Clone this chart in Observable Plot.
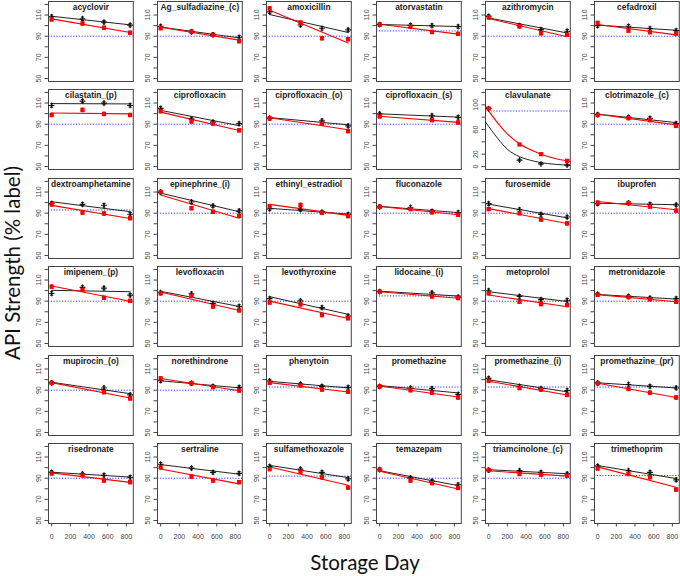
<!DOCTYPE html>
<html><head><meta charset="utf-8">
<script src="https://cdn.jsdelivr.net/npm/d3@7"></script>
<script src="https://cdn.jsdelivr.net/npm/@observablehq/plot@0.6"></script>
<style>
body{margin:0;background:#fff;}
#wrap{position:relative;width:680px;height:576px;overflow:hidden;background:#fff;}
.ylab{position:absolute;left:12px;top:263px;transform:translate(-50%,-50%) rotate(-90deg);font:20.5px Lato, sans-serif;white-space:nowrap;color:#111;}
.xlab{position:absolute;left:365px;top:562px;transform:translate(-50%,-50%);font:20.5px Lato, sans-serif;white-space:nowrap;color:#111;}
</style></head><body><div id="wrap"><div class="ylab">API Strength (% label)</div><div class="xlab">Storage Day</div></div>
<script>
const drugs = ["acyclovir","Ag_sulfadiazine_(c)","amoxicillin","atorvastatin","azithromycin","cefadroxil",
"cilastatin_(p)","ciprofloxacin","ciprofloxacin_(o)","ciprofloxacin_(s)","clavulanate","clotrimazole_(c)",
"dextroamphetamine","epinephrine_(i)","ethinyl_estradiol","fluconazole","furosemide","ibuprofen",
"imipenem_(p)","levofloxacin","levothyroxine","lidocaine_(i)","metoprolol","metronidazole",
"mupirocin_(o)","norethindrone","phenytoin","promethazine","promethazine_(i)","promethazine_(pr)",
"risedronate","sertraline","sulfamethoxazole","temazepam","triamcinolone_(c)","trimethoprim"];
const days = [0, 330, 560, 840];
// black series (per drug, at days)
const blackStrength = [
[108.4,106.5,103.3,100.5],[99.2,94,91.3,89],[113,100.6,97.5,95.9],[101,100.3,100,99],[108.8,100,96.3,94.7],[100,99.4,97.2,95.3],
[107.7,111.9,110,107.7],[105,95,92,90.5],[95.8,null,93.2,88.4],[99.7,null,98,96.5],[94,10.3,4.4,2.2],[99,96.5,95.5,90.6],
[99.1,98.4,97.5,89],[110,100.6,96.9,92.2],[94,93.5,91,88.8],[96,95.4,91.8,90.6],[99,93.3,88.8,86.4],[99,99.6,98.4,97.8],
[97.3,103,102.4,95.7],[98,97,87.9,85],[92.4,90.3,84,76],[99,null,97.8,93.9],[99.9,94.5,91.5,90.9],[96.6,94.5,93,92.4],
[96.9,null,92.1,85.5],[99,96.6,93.6,92.7],[98.7,95.7,93.6,92.7],[93.6,92,91.5,86.1],[101.1,93.6,91.5,89.7],[96.9,95.4,93.6,92.1],
[95.5,94,92.8,90.9],[103.2,99.5,95.5,94.6],[101.1,98.6,95.5,89.4],[98,90.3,87.2,83.8],[97.7,97.1,95.5,94],[101.4,97.1,95.5,88.5]];
// red series (per drug, at days)
const redStrength = [
[105.9,102,97.9,93.2],[97.6,94.4,91.3,85.3],[116.3,102.8,88.1,87.2],[101,98.8,94,92.2],[107.8,99.4,92.8,91.3],[102.5,95.3,93.8,92.5],
[98.7,103.5,99.7,98.7],[102.3,92.6,90.6,84.2],[95.5,null,90.6,83.5],[97.4,null,93.9,91.6],[94,35.7,20,9.2],[98.7,95.8,93.9,88.4],
[98.4,90.6,89.7,85.3],[110,94.7,91.3,87.5],[96.6,97.8,90.3,87.3],[96,93.9,90.9,88.5],[93.9,90,84,80.4],[99.9,99.6,96.3,92.4],
[103.7,100.8,93.2,90.3],[97.5,95,85,81.3],[88.8,87,76.9,73.9],[99,null,94.5,93],[97.5,89.4,87.3,86.4],[96,93.9,91.8,89.4],
[96.9,null,88.2,82.2],[101.1,96.6,93,89.7],[96.9,94.5,90.6,88.5],[93.6,90,87.6,83.1],[99,92.1,90.6,85.5],[96.6,91.2,87.6,83.1],
[94.6,92.8,87.8,86.3],[100.2,91.5,87.8,86.3],[98.6,96.2,90.9,81.1],[98,87.8,85.4,80.8],[97.7,94,93.4,92.5],[99.2,94,90.9,79.2]];
const refLevel = [90,90,90,95,90,90, 90,90,90,90,90,90, 93,90,90,90,90,90, 90,90,90,95,90,90, 90,90,93,93,93,93, 90,90,92,90,90,92.5];
// clavulanate exponential fit curves
const clavFitDays  = [-33, 100, 200, 330, 450, 560, 700, 873];
const clavFitBlack = [72, 45, 28, 16, 10, 6.3, 3.8, 2];
const clavFitRed   = [97, 70, 53, 37, 27, 20, 13.5, 8.5];
const yTicks = [50,60,70,80,90,100,110,120];
const yTickLabels = [50,70,90,110];
const clavTicks = [0,20,40,60,80,100,120];
const clavTickLabels = [0,20,60,100];
const xTicks = [0,200,400,600,800];
const errHalf = 1.6;

const capSymbol = {draw(ctx, size){ const w = Math.sqrt(size/Math.PI); ctx.moveTo(-w,0); ctx.lineTo(w,0); }};
const wrap = document.getElementById("wrap");
const W = 109.3, ML = 24;

drugs.forEach((name, i) => {
  const col = i % 6, row = Math.floor(i / 6);
  const bottom = row === 5;
  const clav = name === "clavulanate";
  const blk = days.map((d, k) => ({day: d, v: blackStrength[i][k]})).filter(d => d.v != null);
  const red = days.map((d, k) => ({day: d, v: redStrength[i][k]})).filter(d => d.v != null);
  const yt = clav ? clavTicks : yTicks, yl = clav ? clavTickLabels : yTickLabels;
  const marks = [
    Plot.frame({stroke: "#444", strokeWidth: 1}),
    Plot.axisY({ticks: yt, tickFormat: d => yl.includes(d) ? d : "", tickRotate: -90, tickSize: 3.5, tickPadding: 4.5, fontSize: 7, label: null, stroke: "#444", fill: "#444"}),
    Plot.ruleY([refLevel[i]], {stroke: "#3535ff", strokeDasharray: "1.2 1.6", strokeWidth: 1}),
  ];
  if (bottom) marks.push(Plot.axisX({ticks: xTicks, tickSize: 3.5, tickPadding: 7, fontSize: 7, label: null, stroke: "#444", fill: "#444"}));
  if (clav) {
    const fitB = clavFitDays.map((d, k) => ({day: d, v: clavFitBlack[k]}));
    const fitR = clavFitDays.map((d, k) => ({day: d, v: clavFitRed[k]}));
    marks.push(Plot.line(fitB, {x: "day", y: "v", stroke: "#222", strokeWidth: 1, curve: "monotone-x"}));
    marks.push(Plot.line(fitR, {x: "day", y: "v", stroke: "red", strokeWidth: 1.1, curve: "monotone-x"}));
  } else {
    marks.push(Plot.linearRegressionY(blk, {x: "day", y: "v", stroke: "#222", strokeWidth: 1, ci: 0}));
    marks.push(Plot.linearRegressionY(red, {x: "day", y: "v", stroke: "red", strokeWidth: 1.1, ci: 0}));
  }
  [[blk, "#111"], [red, "red"]].forEach(([data, c]) => {
    marks.push(Plot.ruleX(data, {x: "day", y1: d => d.v - errHalf, y2: d => d.v + errHalf, stroke: c, strokeWidth: 1}));
    marks.push(Plot.dot(data, {x: "day", y: d => d.v - errHalf, symbol: capSymbol, r: 1.6, stroke: c, strokeWidth: 1}));
    marks.push(Plot.dot(data, {x: "day", y: d => d.v + errHalf, symbol: capSymbol, r: 1.6, stroke: c, strokeWidth: 1}));
  });
  marks.push(Plot.dot(blk, {x: "day", y: "v", symbol: "plus", r: 2, stroke: "#111", strokeWidth: 1.2}));
  marks.push(Plot.dot(red, {x: "day", y: "v", symbol: "square", r: 2.4, fill: "red"}));
  marks.push(Plot.text([name], {frameAnchor: "top", dy: 3, lineAnchor: "top", text: d => d, fontWeight: "bold", fontSize: 8.4, fill: "#222"}));

  const svg = Plot.plot({
    width: W, height: bottom ? 104 : 82,
    marginLeft: ML, marginRight: 0.5, marginTop: 1, marginBottom: bottom ? 23 : 1,
    style: {fontFamily: "'Liberation Sans', Arial, sans-serif", fontSize: "7px", background: "transparent", overflow: "visible"},
    x: {domain: [-33.6, 873.6], axis: bottom ? undefined : null},
    y: {domain: clav ? [-4.8, 124.8] : [47.2, 122.8]},
    marks
  });
  svg.style.position = "absolute";
  svg.style.left = (47.7 - ML + col * W) + "px";
  svg.style.top = (row * 88.46) + "px";
  wrap.appendChild(svg);
});
</script></body></html>
